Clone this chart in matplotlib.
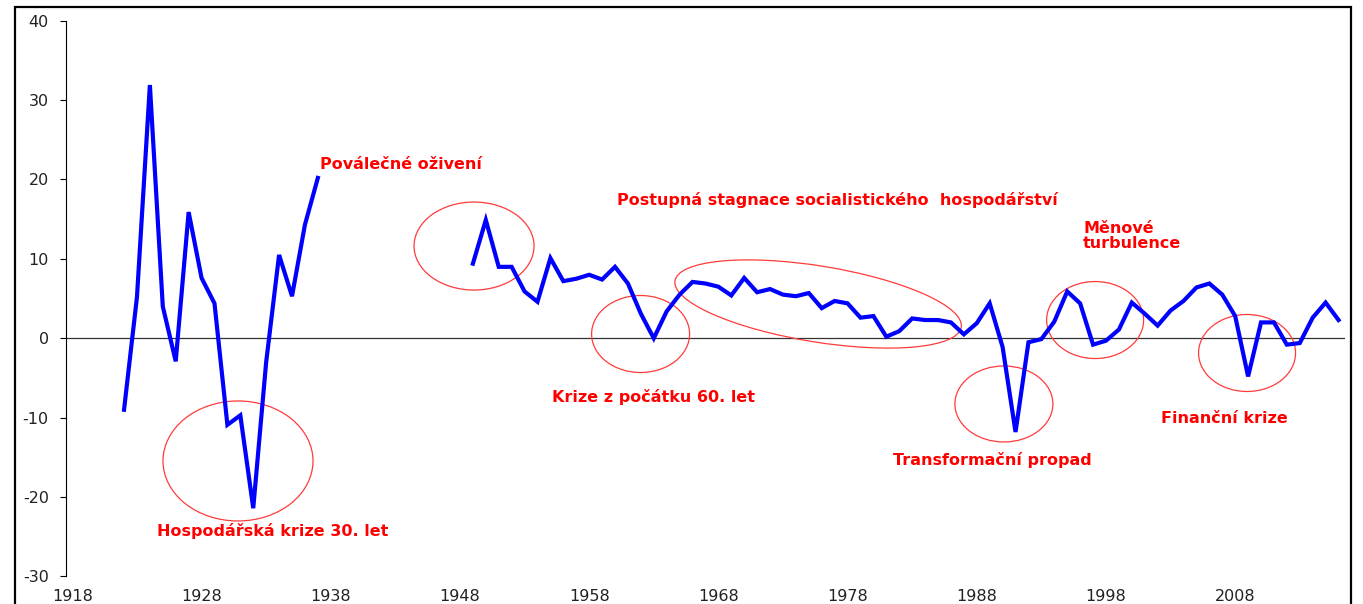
import matplotlib.pyplot as plt
from matplotlib.patches import Ellipse, Rectangle
from matplotlib.transforms import ScaledTranslation

# roky (kategorie) a meziroční růst HDP v %
years_interwar = list(range(1922, 1938))
growth_interwar = [-9.0, 5.2, 31.9, 4.0, -2.9, 15.9, 7.6, 4.4,
                   -10.9, -9.7, -21.4, -3.0, 10.5, 5.3, 14.3, 20.2]

years_postwar = list(range(1949, 2017))
growth_postwar = [9.4, 14.9, 9.0, 9.0, 5.9, 4.6, 10.1, 7.2, 7.5, 8.0,
                  7.4, 9.0, 6.9, 3.1, 0.0, 3.4, 5.5, 7.1, 6.9, 6.5,
                  5.4, 7.6, 5.8, 6.2, 5.5, 5.3, 5.7, 3.8, 4.7, 4.4,
                  2.6, 2.8, 0.2, 0.9, 2.5, 2.3, 2.3, 2.0, 0.5, 1.9,
                  4.4, -1.1, -11.8, -0.5, -0.1, 2.1, 5.9, 4.4, -0.8, -0.3,
                  1.1, 4.5, 3.1, 1.6, 3.5, 4.7, 6.4, 6.9, 5.5, 2.8,
                  -4.8, 2.0, 2.0, -0.8, -0.6, 2.6, 4.5, 2.3]

tick_years = [1918, 1928, 1938, 1948, 1958, 1968, 1978, 1988, 1998, 2008]
y_ticks = [-30, -20, -10, 0, 10, 20, 30, 40]

plt.rcParams['font.family'] = ['DejaVu Sans']
plt.rcParams['axes.unicode_minus'] = False

fig = plt.figure(figsize=(13.63, 6.04), dpi=100)
ax = fig.add_axes([0.04835, 0.04553, 0.93844, 0.9202])

# hlavní křivka
ax.plot(years_interwar, growth_interwar, color='#0000FF', lw=3, solid_joinstyle='miter')
ax.plot(years_postwar, growth_postwar, color='#0000FF', lw=3, solid_joinstyle='miter')
ax.axhline(0, color='#333333', lw=0.9, zorder=1)

ax.set_xlim(1917.5, 2016.5)
ax.set_ylim(-30, 40)
ax.set_xticks(tick_years)
ax.set_xticklabels([str(y) for y in tick_years])
ax.set_yticks(y_ticks)

for side in ['top', 'right', 'bottom']:
    ax.spines[side].set_visible(False)
ax.spines['left'].set_linewidth(0.8)
ax.tick_params(axis='y', direction='out', length=4.3, width=0.8, pad=8,
               labelsize=11.5, labelcolor='#222222')
ax.tick_params(axis='x', length=0, pad=9, labelsize=11.5, labelcolor='#222222')


# kroužky kolem období (střed v datech, rozměry v pixelech)
def draw_ellipse(cx, cy, w, h, angle=0):
    e = Ellipse((0, 0), w / 100, h / 100, angle=angle, fill=False,
                edgecolor='#FF3B3B', lw=0.9, clip_on=False,
                transform=fig.dpi_scale_trans + ScaledTranslation(cx, cy, ax.transData))
    ax.add_patch(e)


draw_ellipse(1930.82, -15.45, 150, 120)
draw_ellipse(1949.09, 11.62, 120, 88)
draw_ellipse(1961.98, 0.54, 98, 77)
draw_ellipse(1975.72, 4.32, 290, 76, angle=-9.2)
draw_ellipse(1990.1, -8.27, 98, 76)
draw_ellipse(1997.16, 2.30, 97, 77)
draw_ellipse(2008.92, -1.85, 97, 77)

# popisky
labels = [
    (1937.17, 21.83, 'Poválečné oživení'),
    (1960.13, 17.4, 'Postupná stagnace socialistického  hospodářství'),
    (1996.23, 12.94, 'Měnové\nturbulence'),
    (1955.11, -7.36, 'Krize z počátku 60. let'),
    (1924.55, -24.27, 'Hospodářská krize 30. let'),
    (1981.52, -15.32, 'Transformační propad'),
    (2002.26, -10.04, 'Finanční krize'),
]
for x, y, s in labels:
    ax.text(x, y, s, color='#FF0000', fontweight='bold', fontsize=11.5,
            ha='left', va='center', linespacing=1.0)

# rámeček kolem obrázku
frame = Rectangle((15 / 1363, -0.1), (1351 - 15) / 1363, 0.9884 + 0.1,
                  transform=fig.transFigure, fill=False, edgecolor='black', lw=1.6)
fig.add_artist(frame)

fig.savefig('out.png', dpi=100)
